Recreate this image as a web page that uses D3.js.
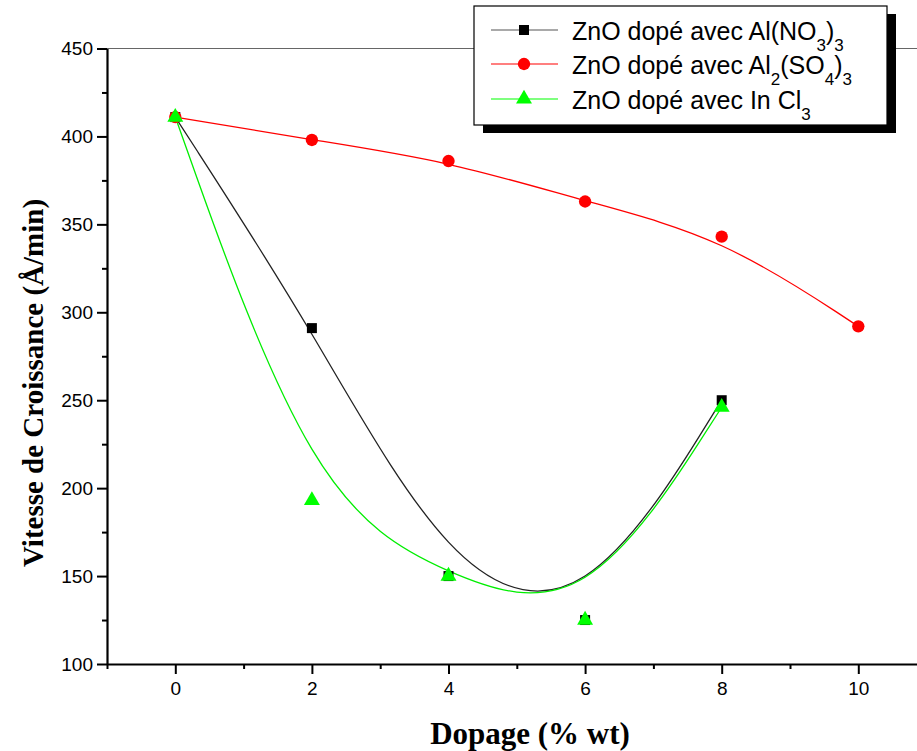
<!DOCTYPE html>
<html>
<head>
<meta charset="utf-8">
<script src="https://cdn.jsdelivr.net/npm/d3@7"></script>
<style>
  body { margin: 0; background: #fff; }
  svg { display: block; }
</style>
</head>
<body>
<div id="chart"></div>
<script>
// Data
const dopage = [0, 2, 4, 6, 8, 10];
const alNO3 = [411, 291, 150, 125, 250];
const alSO4 = [411, 398, 386, 363, 343, 292];
const inCl3 = [411, 193, 150, 125, 246];
const xTicks = [0, 2, 4, 6, 8, 10];
const yTicks = [100, 150, 200, 250, 300, 350, 400, 450];

const W = 917, H = 751;
const margin = { top: 48.5, left: 107, bottom: 87 };

const svg = d3.select("#chart").append("svg")
    .attr("width", W)
    .attr("height", H);

// Scales (right end of the frame falls outside the picture)
const x = d3.scaleLinear().domain([-1, 11]).range([margin.left, margin.left + 12 * 68.3]);
const y = d3.scaleLinear().domain([100, 450]).range([H - margin.bottom, margin.top]);

// top frame line, thin and gray
svg.append("line")
    .attr("x1", x(-1)).attr("x2", W)
    .attr("y1", y(450)).attr("y2", y(450))
    .attr("stroke", "#666").attr("stroke-width", 1.2);

// minor ticks
svg.append("g")
    .attr("transform", `translate(0,${y(100)})`)
    .call(d3.axisBottom(x).tickValues([-1, 1, 3, 5, 7, 9, 11]).tickSize(5).tickFormat(""))
    .call(g => g.select(".domain").remove())
    .selectAll("line").attr("stroke-width", 2);
svg.append("g")
    .attr("transform", `translate(${x(-1)},0)`)
    .call(d3.axisLeft(y).tickValues([125, 175, 225, 275, 325, 375, 425]).tickSize(5).tickFormat(""))
    .call(g => g.select(".domain").remove())
    .selectAll("line").attr("stroke-width", 2);

// major axes
const xAxis = svg.append("g")
    .attr("transform", `translate(0,${y(100)})`)
    .call(d3.axisBottom(x).tickValues(xTicks).tickSize(10).tickSizeOuter(0).tickPadding(8));
const yAxis = svg.append("g")
    .attr("transform", `translate(${x(-1)},0)`)
    .call(d3.axisLeft(y).tickValues(yTicks).tickSize(10).tickSizeOuter(0).tickPadding(4));

[xAxis, yAxis].forEach(a => {
    a.select(".domain").attr("stroke-width", 2.2);
    a.selectAll(".tick line").attr("stroke-width", 2);
    a.selectAll("text")
        .style("font-family", "Liberation Sans, Arial, sans-serif")
        .style("font-size", "19px")
        .attr("fill", "#000");
});

// Axis titles
svg.append("text")
    .attr("x", 530).attr("y", 744)
    .attr("text-anchor", "middle")
    .style("font-family", "Liberation Serif, Times New Roman, serif")
    .style("font-weight", "bold")
    .style("font-size", "31px")
    .text("Dopage (% wt)");

svg.append("text")
    .attr("transform", "translate(43,383) rotate(-90)")
    .attr("text-anchor", "middle")
    .style("font-family", "Liberation Serif, Times New Roman, serif")
    .style("font-weight", "bold")
    .style("font-size", "29px")
    .text("Vitesse de Croissance (Å/min)");

// Series: B-spline lines like Origin, then symbols
const series = [
    { values: alNO3, color: "#000", line: "#222", shape: d3.symbolSquare, size: 100 },
    { values: alSO4, color: "#ff0000", line: "#ff0000", shape: d3.symbolCircle, size: 120 },
    { values: inCl3, color: "#00ff00", line: "#00ee00", shape: d3.symbolTriangle, size: 110 }
];

const line = d3.line()
    .x((d, i) => x(dopage[i]))
    .y(d => y(d))
    .curve(d3.curveBasis);

series.forEach(s => {
    svg.append("path")
        .datum(s.values)
        .attr("d", line)
        .attr("fill", "none")
        .attr("stroke", s.line)
        .attr("stroke-width", 1.3);
});

series.forEach(s => {
    svg.selectAll(null)
        .data(s.values)
        .enter()
        .append("path")
        .attr("d", d3.symbol().type(s.shape).size(s.size))
        .attr("transform", (d, i) => `translate(${x(dopage[i])},${y(d)})`)
        .attr("fill", s.color);
});

// Legend with shadow
const lg = svg.append("g");
lg.append("rect")
    .attr("x", 483).attr("y", 14).attr("width", 413).attr("height", 119)
    .attr("fill", "#000");
lg.append("rect")
    .attr("x", 474).attr("y", 6).attr("width", 413).attr("height", 119)
    .attr("fill", "#fff").attr("stroke", "#000").attr("stroke-width", 1.2);

const legendRows = [
    { s: series[0], y: 30, parts: [["ZnO dopé avec Al(NO", 0], ["3", 1], [")", 0], ["3", 1]] },
    { s: series[1], y: 64, parts: [["ZnO dopé avec Al", 0], ["2", 1], ["(SO", 0], ["4", 1], [")", 0], ["3", 1]] },
    { s: series[2], y: 99, parts: [["ZnO dopé avec In Cl", 0], ["3", 1]] }
];

const subShift = 11;
legendRows.forEach(r => {
    lg.append("line")
        .attr("x1", 491).attr("x2", 558)
        .attr("y1", r.y).attr("y2", r.y)
        .attr("stroke", r.s.color === "#000" ? "#555" : r.s.color)
        .attr("stroke-width", 1.2);
    lg.append("path")
        .attr("d", d3.symbol().type(r.s.shape).size(r.s.size))
        .attr("transform", `translate(524,${r.y})`)
        .attr("fill", r.s.color);
    const t = lg.append("text")
        .attr("x", 572).attr("y", r.y + 10)
        .style("font-family", "Liberation Sans, Arial, sans-serif")
        .style("font-size", "25px");
    let shifted = 0;
    r.parts.forEach(([txt, sub]) => {
        const target = sub ? subShift : 0;
        t.append("tspan")
            .attr("dy", target - shifted)
            .style("font-size", sub ? "17px" : "25px")
            .text(txt);
        shifted = target;
    });
});
</script>
</body>
</html>
